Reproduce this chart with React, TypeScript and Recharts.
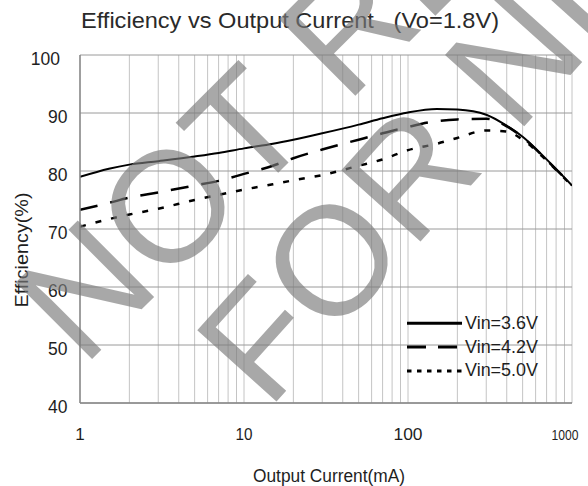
import React from 'react';
import { LineChart, Line, XAxis, YAxis, CartesianGrid } from 'recharts';

// ---- data ----
const currents = [1, 1.5, 2, 3, 5, 7, 10, 15, 20, 30, 50, 70, 100, 150, 200, 300, 400, 500, 700, 1000];
const vin36 = [79.0, 80.4, 81.1, 81.7, 82.5, 83.1, 83.9, 84.7, 85.4, 86.5, 88.0, 89.1, 90.1, 90.7, 90.6, 89.7, 87.8, 85.9, 82.0, 77.5];
const vin42 = [73.3, 74.5, 75.4, 76.3, 77.5, 78.3, 79.5, 80.9, 82.2, 83.7, 85.4, 86.5, 87.6, 88.6, 88.9, 89.0, 87.7, 85.8, 81.9, 77.5];
const vin50 = [70.4, 71.7, 72.5, 73.5, 75.0, 75.9, 76.8, 77.7, 78.4, 79.3, 80.9, 82.0, 83.6, 84.7, 85.7, 87.0, 86.8, 85.4, 81.8, 77.4];
const seriesNames = ['Vin=3.6V', 'Vin=4.2V', 'Vin=5.0V'];

const xGridTicks = [1, 2, 3, 4, 5, 6, 7, 8, 9, 10, 20, 30, 40, 50, 60, 70, 80, 90, 100, 200, 300, 400, 500, 600, 700, 800, 900, 1000];
const xLabelTicks = [1, 10, 100, 1000];
const yTicks = [40, 50, 60, 70, 80, 90, 100];

const titleText = 'Efficiency vs Output Current   (Vo=1.8V)';
const xTitle = 'Output Current(mA)';
const yTitle = 'Efficiency(%)';
const watermarkLines = ['NOT RECOMMENDED', 'FOR NEW DESIGN'];

const data = currents.map((c, i) => ({ current: c, v36: vin36[i], v42: vin42[i], v50: vin50[i] }));

const FONT = '"Liberation Sans", Arial, sans-serif';
const TEXT = '#1e1e1e';

const xLabelWidths: Record<number, number> = { 10: 17, 100: 29, 1000: 27 };

const XTick = (props: any) => {
  const { x, y, payload } = props;
  const v = payload.value;
  if (xLabelTicks.indexOf(v) < 0) return null;
  const w = xLabelWidths[v];
  const shift = v === 1000 ? -7 : 0;
  return (
    <text
      x={x + shift}
      y={y + 36.5}
      textAnchor="middle"
      fontSize={v === 1000 ? 15 : 17}
      fontFamily={FONT}
      fill={TEXT}
      {...(w ? { textLength: w, lengthAdjust: 'spacingAndGlyphs' } : {})}
    >
      {v}
    </text>
  );
};

const YTick = (props: any) => {
  const { x, y, payload } = props;
  const v = payload.value;
  const right = v === 100 ? x - 20 : x - 12.5;
  return (
    <text x={right} y={y + 3.5} dy="0.355em" textAnchor="end" fontSize={17.5} fontFamily={FONT} fill={TEXT}>
      {v}
    </text>
  );
};

const legendItems = [
  { name: seriesNames[0], dash: undefined as string | undefined },
  { name: seriesNames[1], dash: '19 12' },
  { name: seriesNames[2], dash: '4.5 5.5' },
];

export default function App() {
  return (
    <div style={{ position: 'absolute', left: 0, top: 0, width: 588, height: 486, background: '#fff' }}>
      <LineChart
        width={588}
        height={486}
        data={data}
        margin={{ top: 55, right: 16, bottom: 53, left: 20 }}
      >
        <CartesianGrid horizontal={false} stroke="#c4c4c4" strokeWidth={1} />
        <CartesianGrid vertical={false} stroke="#9a9a9a" strokeWidth={1} />
        <XAxis
          dataKey="current"
          type="number"
          scale="log"
          domain={[1, 1000]}
          ticks={xGridTicks}
          interval={0}
          height={30}
          tickLine={false}
          tickSize={0}
          tickMargin={0}
          axisLine={{ stroke: '#888', strokeWidth: 1.5 }}
          tick={<XTick />}
          allowDataOverflow
        />
        <YAxis
          type="number"
          domain={[40, 100]}
          ticks={yTicks}
          interval={0}
          width={60}
          tickLine={false}
          tickSize={0}
          tickMargin={0}
          axisLine={{ stroke: '#888', strokeWidth: 1.5 }}
          tick={<YTick />}
          allowDataOverflow
        />
        <Line type="monotone" dataKey="v36" name={seriesNames[0]} stroke="#000" strokeWidth={2} dot={false} isAnimationActive={false} />
        <Line type="monotone" dataKey="v42" name={seriesNames[1]} stroke="#000" strokeWidth={2.5} strokeDasharray="18 13" dot={false} isAnimationActive={false} />
        <Line type="monotone" dataKey="v50" name={seriesNames[2]} stroke="#000" strokeWidth={2.5} strokeDasharray="6 10" dot={false} isAnimationActive={false} />
      </LineChart>
      <svg
        width={588}
        height={486}
        style={{ position: 'absolute', left: 0, top: 0, pointerEvents: 'none' }}
        fontFamily={FONT}
      >
        <text x={81} y={28.3} fontSize={22.5} fill="#2a2a2a" textLength={418} lengthAdjust="spacingAndGlyphs" style={{ whiteSpace: 'pre' }}>
          {titleText}
        </text>
        <text x={253} y={482} fontSize={18} fill={TEXT} textLength={152} lengthAdjust="spacingAndGlyphs">
          {xTitle}
        </text>
        <text
          x={0}
          y={0}
          fontSize={18}
          fill={TEXT}
          textAnchor="middle"
          transform="translate(28,250) rotate(-90)"
          textLength={115}
          lengthAdjust="spacingAndGlyphs"
        >
          {yTitle}
        </text>
        {legendItems.map((it, i) => {
          const ly = 323.3 + i * 23.8;
          return (
            <g key={it.name}>
              <line x1={407} x2={462} y1={ly} y2={ly} stroke="#000" strokeWidth={3} strokeDasharray={it.dash} />
              <text x={465} y={ly - 1 + 6.5} fontSize={18} fill={TEXT} textLength={73} lengthAdjust="spacingAndGlyphs">
                {it.name}
              </text>
            </g>
          );
        })}
        <g fill="#7b7b7b" opacity={0.65}>
          <text x={83} y={368} fontSize={157} transform="rotate(-45 83 368)">{watermarkLines[0]}</text>
          <text x={268} y={411} fontSize={155} transform="rotate(-48 268 411)">{watermarkLines[1]}</text>
        </g>
      </svg>
    </div>
  );
}
